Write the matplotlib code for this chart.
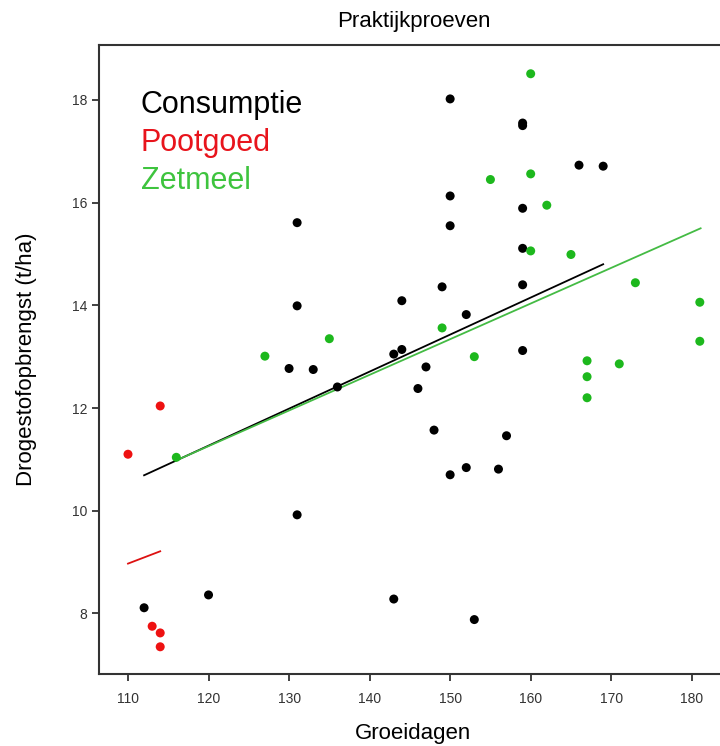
#! /usr/bin/env python3

import numpy as np
import matplotlib.pyplot as plt

plt.rcParams['font.family'] = ['Liberation Sans', 'DejaVu Sans']

# Consumptie
cons_days = [112, 120, 130, 131, 131, 131, 133, 136, 143, 143, 144, 144, 146, 147,
             148, 149, 150, 150, 150, 150, 152, 152, 153, 156, 157, 159, 159, 159,
             159, 159, 159, 166, 169]
cons_yield = [8.11, 8.36, 12.77, 15.61, 13.99, 9.92, 12.75, 12.41, 13.05, 8.28, 13.14,
              14.09, 12.38, 12.80, 11.57, 14.36, 18.02, 16.13, 15.55, 10.70, 13.82,
              10.84, 7.88, 10.81, 11.46, 17.55, 17.50, 15.89, 15.11, 14.40, 13.12,
              16.73, 16.71]

# Pootgoed
poot_days = [110, 113, 114, 114, 114]
poot_yield = [11.10, 7.75, 12.04, 7.62, 7.35]

# Zetmeel
zet_days = [116, 127, 135, 149, 153, 155, 160, 160, 160, 162, 165, 167, 167, 167,
            171, 173, 181, 181]
zet_yield = [11.04, 13.01, 13.35, 13.56, 13.00, 16.45, 18.51, 16.56, 15.06, 15.95,
             14.99, 12.92, 12.61, 12.20, 12.86, 14.44, 14.06, 13.30]

# trend lines (start, end)
cons_trend_x = [112, 169]
cons_trend_y = [10.69, 14.80]
poot_trend_x = [110, 114]
poot_trend_y = [8.97, 9.21]
zet_trend_x = [116, 181.1]
zet_trend_y = [10.98, 15.50]

groups = ['Consumptie', 'Pootgoed', 'Zetmeel']
dot_colors = ['#000000', '#ee1111', '#1db81d']
line_colors = ['#000000', '#dd1111', '#44bb44']
text_colors = ['#000000', '#e8141c', '#3ec43e']

fig = plt.figure(figsize=(7.2, 7.46), dpi=100)
ax = fig.add_axes([99 / 720, 72 / 746, 629 / 720, 629 / 746])

series = [(cons_days, cons_yield, cons_trend_x, cons_trend_y),
          (poot_days, poot_yield, poot_trend_x, poot_trend_y),
          (zet_days, zet_yield, zet_trend_x, zet_trend_y)]

for i, (x, y, tx, ty) in enumerate(series):
    ax.plot(tx, ty, color=line_colors[i], linewidth=1.3, zorder=2)
    ax.scatter(x, y, s=42, color=dot_colors[i], edgecolors='none', zorder=3)

for i, name in enumerate(groups):
    ax.text(0.066, 0.905 - i * 0.0605, name, transform=ax.transAxes,
            fontsize=22, color=text_colors[i], va='center', ha='left')

ax.set_xlim(106.4, 184.5)
ax.set_ylim(6.82, 19.07)
ax.set_xticks(range(110, 181, 10))
ax.set_yticks(range(8, 19, 2))

for side in ['top', 'bottom', 'left', 'right']:
    ax.spines[side].set_color('#333333')
    ax.spines[side].set_linewidth(1.5)

ax.tick_params(direction='out', length=5, width=1.3, colors='#333333',
               labelsize=10, labelcolor='#333333')
ax.tick_params(axis='x', pad=8)

ax.set_title('Praktijkproeven', fontsize=16, pad=13)
ax.set_xlabel('Groeidagen', fontsize=16, labelpad=12)
ax.set_ylabel('Drogestofopbrengst (t/ha)', fontsize=16, labelpad=25)

plt.savefig('out.png', dpi=100)
